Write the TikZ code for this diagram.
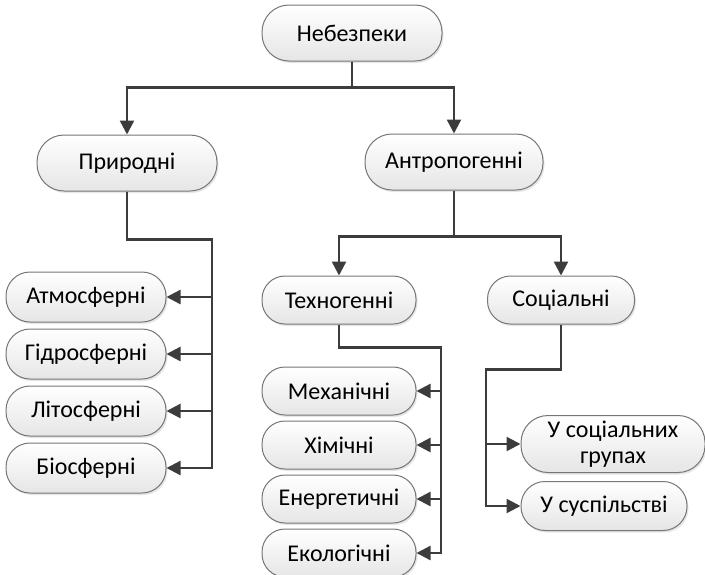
\documentclass[tikz,border=0pt]{standalone}
\usepackage{fontspec}
\setmainfont{Carlito}
\usetikzlibrary{arrows.meta,positioning,shadows}

\definecolor{linegray}{HTML}{3C3C3C}
\definecolor{boxgray}{HTML}{767676}

\begin{document}
\begin{tikzpicture}[
  x=1pt, y=1pt,
  node distance=6pt,
  box/.style={draw=boxgray, line width=1pt, top color=white, bottom color=black!10, rounded corners=24pt, align=center, minimum height=50pt, minimum width=160pt, inner sep=0pt, text=black, font=\fontsize{24}{26}\selectfont, drop shadow={shadow xshift=1.5pt, shadow yshift=-2pt, opacity=0.2}},
  big/.style={box, minimum height=56pt, minimum width=180pt, rounded corners=27pt},
  mid/.style={box, minimum height=48pt, minimum width=154pt, rounded corners=23pt},
  conn/.style={draw=linegray, line width=2.4pt},
  arr/.style={conn, -{Triangle[length=14pt,width=14pt]}}
]
\useasboundingbox (0,0) rectangle (705,-574);

\node[big] (neb) at (352,-33) {Небезпеки};
\node[big, below left=73pt and 44pt of neb] (pryr) {Природні};
\node[big, minimum width=178pt] (antr) at (454,-162) {Антропогенні};

% природні
\node[box] (atm) at (86,-297) {Атмосферні};
\node[box, below=of atm] (gidr) {Гідросферні};
\node[box, below=of gidr] (lit) {Літосферні};
\node[box, below=of lit] (bio) {Біосферні};

% антропогенні
\node[mid] (tekh) at (339,-300) {Техногенні};
\node[mid, minimum width=147pt] (soc) at (561,-300) {Соціальні};

\node[mid] (mekh) at (339,-391) {Механічні};
\node[mid, below=5pt of mekh] (khim) {Хімічні};
\node[mid, below=5pt of khim] (energ) {Енергетичні};
\node[mid, below=5pt of energ] (ekol) {Екологічні};

\node[box, minimum width=184pt, minimum height=57pt, rounded corners=27pt] (grup) at (613,-444) {У соціальних\\групах};
\node[box, minimum width=166pt, minimum height=49pt, below right=8pt and 0pt of grup.south west] (susp) {У суспільстві};

% зв'язки
\coordinate[below=26pt of neb.south] (nk);
\draw[arr] (neb.south) -- (nk) -| (pryr.north);
\draw[arr] (neb.south) -- (nk) -| (antr.north);

\coordinate[below=48pt of pryr.south] (pk);
\coordinate[right=85pt of pk] (pbus);
\foreach \n in {atm,gidr,lit,bio}
  \draw[arr] (pryr.south) -- (pk) -- (pbus) |- (\n.east);

\coordinate[below=46pt of antr.south] (ak);
\draw[arr] (antr.south) -- (ak) -| (tekh.north);
\draw[arr] (antr.south) -- (ak) -| (soc.north);

\coordinate[below=23pt of tekh.south] (tk);
\coordinate[right=102pt of tk] (tbus);
\foreach \n in {mekh,khim,energ,ekol}
  \draw[arr] (tekh.south) -- (tk) -- (tbus) |- (\n.east);

\coordinate[below=45pt of soc.south] (sk);
\coordinate[left=75pt of sk] (sbus);
\foreach \n in {grup,susp}
  \draw[arr] (soc.south) -- (sk) -- (sbus) |- (\n.west);
\end{tikzpicture}
\end{document}
